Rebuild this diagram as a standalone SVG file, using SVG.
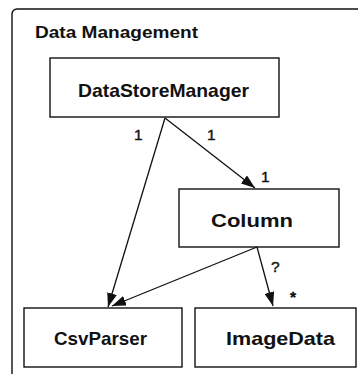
<svg xmlns="http://www.w3.org/2000/svg" width="358" height="374" viewBox="0 0 358 374">
  <style>
    .frame { fill: none; stroke: #111; stroke-width: 1.4; }
    .box { fill: #fff; stroke: #111; stroke-width: 1.4; }
    .name { font-family: "Liberation Sans", Arial, sans-serif; font-weight: bold; font-size: 18.5px; fill: #111; }
    .title { font-family: "Liberation Sans", Arial, sans-serif; font-weight: bold; font-size: 16.3px; fill: #111; }
    .mult { font-family: "Liberation Sans", Arial, sans-serif; font-size: 15.5px; fill: #111; stroke: #111; stroke-width: 0.4; }
    .edge { fill: none; stroke: #111; stroke-width: 1.3; }
  </style>
  <defs>
    <marker id="head" viewBox="0 0 14 10" refX="14" refY="5" markerWidth="14" markerHeight="10" markerUnits="userSpaceOnUse" orient="auto">
      <path d="M0,0 L14,5 L0,10 Z" fill="#111"/>
    </marker>
  </defs>
  <rect width="358" height="374" fill="#fff"/>

  <!-- package frame, open towards the right and bottom -->
  <g id="package">
    <rect class="frame" x="12" y="9" width="380" height="390" rx="5"/>
    <text class="title" x="35" y="37.5" textLength="163" lengthAdjust="spacingAndGlyphs">Data Management</text>
  </g>

  <g id="DataStoreManager">
    <rect class="box" x="50" y="58" width="229" height="59"/>
    <text class="name" x="78" y="96.5" textLength="171" lengthAdjust="spacingAndGlyphs">DataStoreManager</text>
  </g>

  <g id="Column">
    <rect class="box" x="179" y="189" width="160" height="58"/>
    <text class="name" x="211" y="227" textLength="82" lengthAdjust="spacingAndGlyphs">Column</text>
  </g>

  <g id="CsvParser">
    <rect class="box" x="24" y="308" width="158" height="59"/>
    <text class="name" x="54" y="345" textLength="93" lengthAdjust="spacingAndGlyphs">CsvParser</text>
  </g>

  <g id="ImageData">
    <rect class="box" x="195" y="308" width="161" height="59"/>
    <text class="name" x="226" y="345" textLength="109" lengthAdjust="spacingAndGlyphs">ImageData</text>
  </g>

  <g id="connectors">
    <line class="edge" x1="165" y1="118" x2="255" y2="188" marker-end="url(#head)"/>
    <line class="edge" x1="165" y1="118" x2="108" y2="307" marker-end="url(#head)"/>
    <line class="edge" x1="257" y1="247" x2="112" y2="306" marker-end="url(#head)"/>
    <line class="edge" x1="257" y1="247" x2="273" y2="306" marker-end="url(#head)"/>
    <text class="mult" x="134" y="139.5">1</text>
    <text class="mult" x="207" y="139.5">1</text>
    <text class="mult" x="261" y="182">1</text>
    <text class="mult" x="271" y="272">?</text>
    <text class="mult" x="290" y="302" font-weight="bold">*</text>
  </g>
</svg>
